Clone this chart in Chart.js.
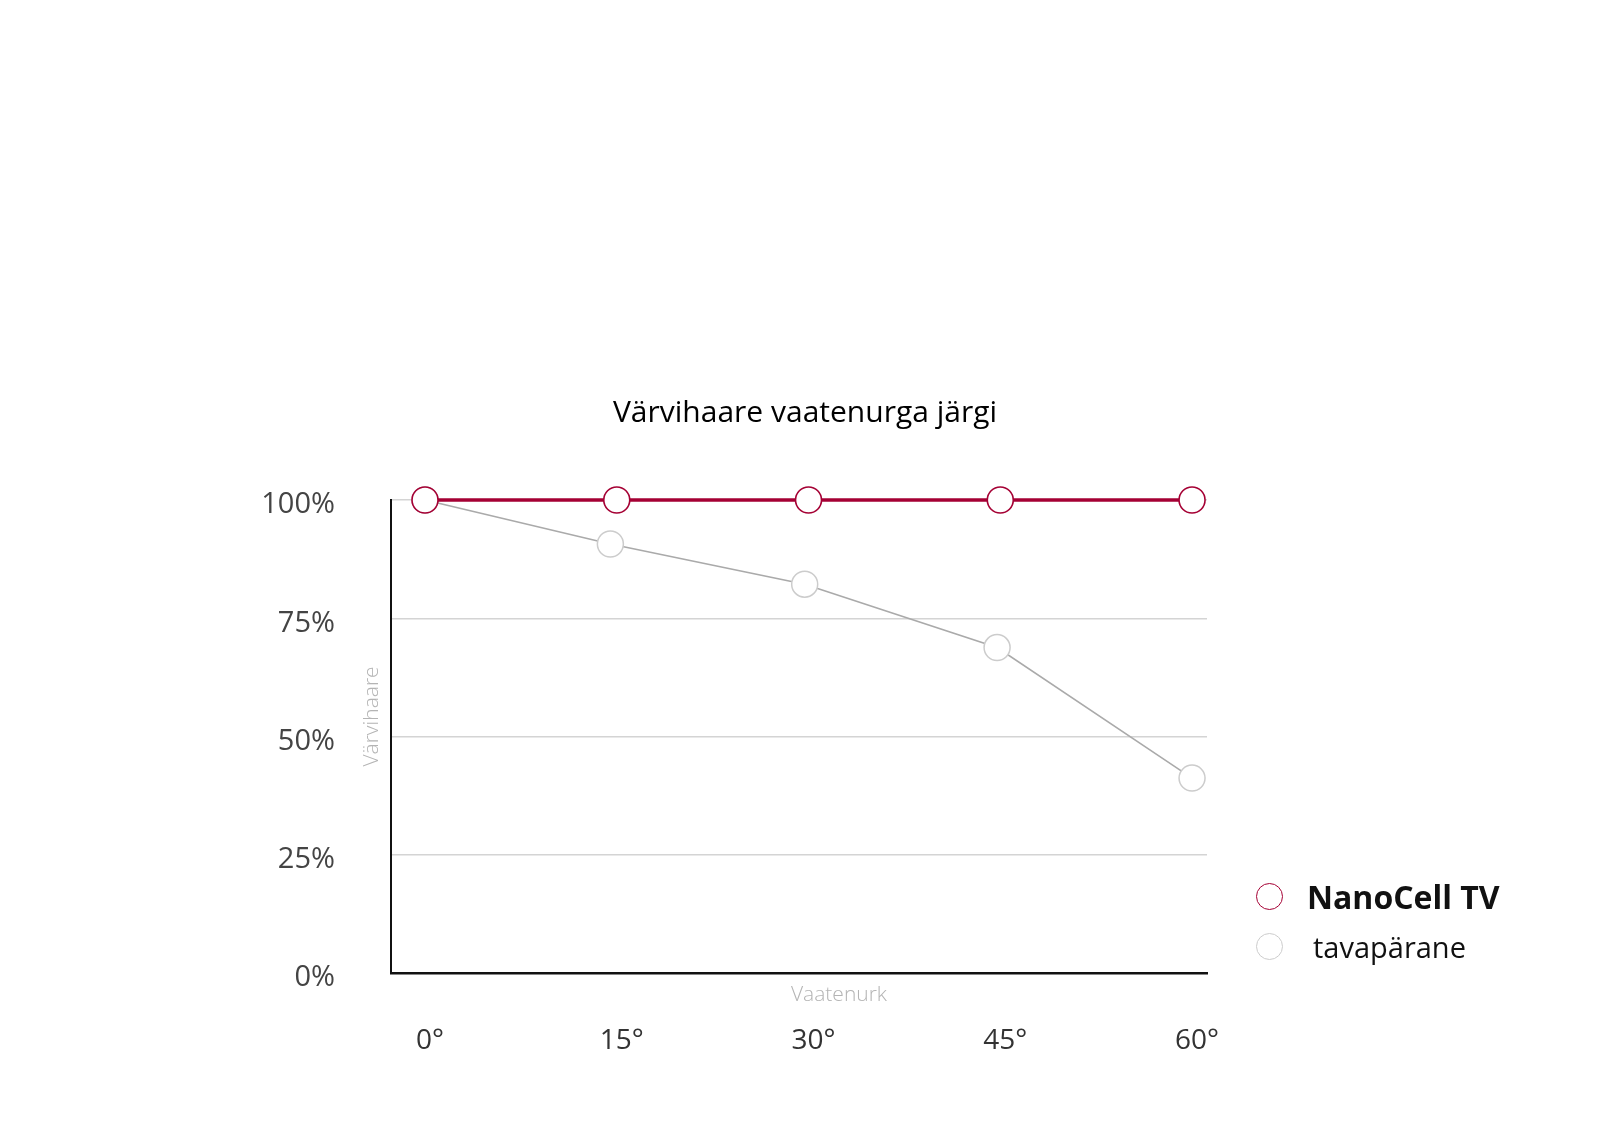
<!DOCTYPE html>
<html lang="et">
<head>
    <meta charset="UTF-8">
    <title>Värvihaare vaatenurga järgi</title>
    <script src="https://cdn.jsdelivr.net/npm/chart.js"></script>
    <style>
        html, body {
            margin: 0;
            padding: 0;
            background: #fff;
            font-family: 'Open Sans', sans-serif;
        }
        .wrap {
            position: relative;
            width: 1600px;
            height: 1129px;
        }
        #chart {
            position: absolute;
            left: 0;
            top: 0;
        }
        .chart-title {
            position: absolute;
            left: 0;
            width: 1610px;
            top: 391px;
            text-align: center;
            font-size: 30px;
            line-height: 40px;
            color: #000;
        }
        .legend {
            position: absolute;
            left: 1256px;
            top: 871px;
        }
        .legend-item {
            display: flex;
            align-items: center;
            height: 50px;
        }
        .legend-dot {
            width: 27px;
            height: 27px;
            border-radius: 50%;
            box-sizing: border-box;
            background: #fff;
        }
        .legend-label {
            margin-left: 24px;
            color: #111;
        }
    </style>
</head>
<body>
    <div class="wrap">
        <canvas id="chart" width="1600" height="1129"></canvas>
        <div class="chart-title">Värvihaare vaatenurga järgi</div>
        <div class="legend" id="legend"></div>
    </div>

    <script>
        // viewing angles (degrees) and tick labels
        const angles = [0, 15, 30, 45, 60];
        const angleLabels = ['0°', '15°', '30°', '45°', '60°'];
        const percentTicks = [0, 25, 50, 75, 100];

        // NanoCell TV keeps full colour range at every angle
        const nanoCellValues = [100, 100, 100, 100, 100];

        // conventional panel, markers sit slightly left of the tick in the picture
        const regularAngles = [0, 14.5, 29.7, 44.75, 60];
        const regularValues = [100, 90.7, 82.2, 68.8, 41.2];

        const seriesNames = ['NanoCell TV', 'tavapärane'];
        const RED = '#a50034';
        const GREY_LINE = '#aaaaaa';
        const GREY_DOT = '#cccccc';

        // axis titles sit between tick labels and the axis line, so draw them by hand
        const axisTitles = {
            id: 'axisTitles',
            afterDraw(chart) {
                const { ctx, chartArea } = chart;
                ctx.save();
                ctx.fillStyle = '#b4b4b4';
                ctx.font = '300 21px "Open Sans", sans-serif';
                ctx.textAlign = 'center';
                ctx.textBaseline = 'middle';
                ctx.fillText('Vaatenurk', (chartArea.left + chartArea.right) / 2 + 40, chartArea.bottom + 22);
                ctx.translate(chartArea.left - 19, (chartArea.top + chartArea.bottom) / 2 - 20);
                ctx.rotate(-Math.PI / 2);
                ctx.fillText('Värvihaare', 0, 0);
                ctx.restore();
            }
        };

        new Chart(document.getElementById('chart'), {
            type: 'line',
            data: {
                datasets: [
                    {
                        label: seriesNames[0],
                        data: angles.map((a, i) => ({ x: a, y: nanoCellValues[i] })),
                        borderColor: RED,
                        borderWidth: 3.5,
                        pointRadius: 13,
                        pointBorderWidth: 1.6,
                        pointBackgroundColor: '#fff',
                        pointBorderColor: RED,
                        tension: 0,
                        clip: false
                    },
                    {
                        label: seriesNames[1],
                        data: regularAngles.map((a, i) => ({ x: a, y: regularValues[i] })),
                        borderColor: GREY_LINE,
                        borderWidth: 1.6,
                        pointRadius: 13,
                        pointBorderWidth: 1.5,
                        pointBackgroundColor: '#fff',
                        pointBorderColor: GREY_DOT,
                        tension: 0,
                        clip: false
                    }
                ]
            },
            options: {
                responsive: false,
                animation: false,
                events: [],
                layout: {
                    padding: { left: 251, top: 500, right: 393, bottom: 56 }
                },
                plugins: {
                    legend: { display: false },
                    title: { display: false },
                    tooltip: { enabled: false }
                },
                scales: {
                    x: {
                        type: 'linear',
                        min: -2.66,
                        max: 61.17,
                        afterBuildTicks: (scale) => {
                            scale.ticks = angles.map(v => ({ value: v }));
                        },
                        afterFit: (scale) => {
                            scale.height = 100;
                            scale.paddingLeft = 0;
                            scale.paddingRight = 0;
                        },
                        grid: { display: false },
                        border: { display: true, color: '#111', width: 2.5 },
                        ticks: {
                            padding: 43,
                            labelOffset: 5,
                            color: '#333',
                            font: { family: 'Open Sans', size: 28 },
                            maxRotation: 0,
                            callback: (value) => angleLabels[angles.indexOf(value)]
                        }
                    },
                    y: {
                        min: 0,
                        max: 100,
                        afterBuildTicks: (scale) => {
                            scale.ticks = percentTicks.map(v => ({ value: v }));
                        },
                        afterFit: (scale) => {
                            scale.width = 140;
                            scale.paddingTop = 0;
                            scale.paddingBottom = 0;
                        },
                        grid: {
                            color: '#d4d4d4',
                            lineWidth: 1.5,
                            drawTicks: false
                        },
                        border: { display: true, color: '#111', width: 2 },
                        ticks: {
                            padding: 56,
                            labelOffset: 5,
                            color: '#444',
                            font: { family: 'Open Sans', size: 29 },
                            callback: (value) => value + '%'
                        }
                    }
                }
            },
            plugins: [axisTitles]
        });

        // legend with a bold first entry, as in the original graphic
        const legend = document.getElementById('legend');
        const legendStyles = [
            { border: RED, weight: 700, size: 32 },
            { border: GREY_DOT, weight: 400, size: 29 }
        ];
        seriesNames.forEach((name, i) => {
            const item = document.createElement('div');
            item.className = 'legend-item';
            const dot = document.createElement('span');
            dot.className = 'legend-dot';
            dot.style.border = '1.5px solid ' + legendStyles[i].border;
            const label = document.createElement('span');
            label.className = 'legend-label';
            label.textContent = name;
            label.style.fontWeight = legendStyles[i].weight;
            label.style.fontSize = legendStyles[i].size + 'px';
            if (i === 1) label.style.marginLeft = '30px';
            item.appendChild(dot);
            item.appendChild(label);
            legend.appendChild(item);
        });
    </script>
</body>
</html>
